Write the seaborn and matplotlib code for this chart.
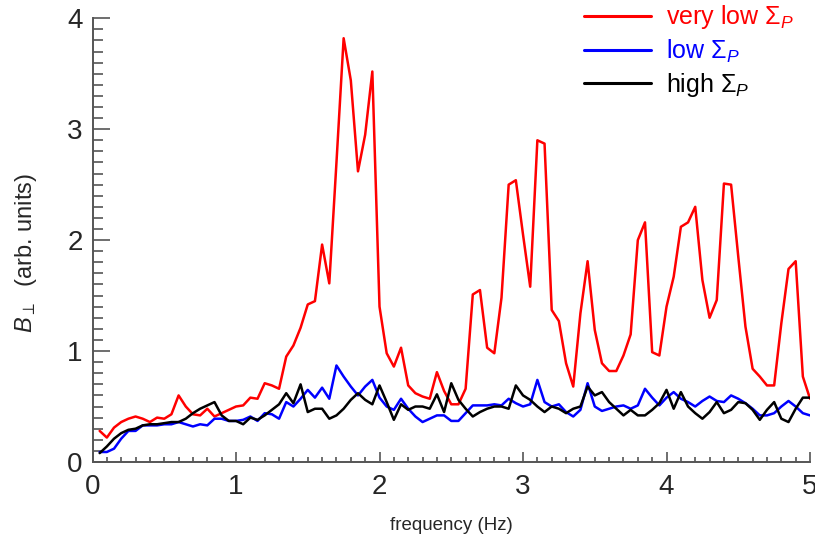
import numpy as np
import pandas as pd
import matplotlib
matplotlib.use("Agg")
import matplotlib.pyplot as plt
from matplotlib import font_manager as fm
from matplotlib.ticker import MultipleLocator
import seaborn as sns

# ---------------- data ----------------
freq = [round(0.05 * i, 2) for i in range(1, 101)]

very_low = [0.28, 0.22, 0.31, 0.36, 0.39, 0.41, 0.39, 0.36, 0.40, 0.39,
            0.43, 0.60, 0.50, 0.43, 0.42, 0.48, 0.41, 0.44, 0.47, 0.50,
            0.51, 0.58, 0.57, 0.71, 0.69, 0.66, 0.95, 1.05, 1.21, 1.42,
            1.45, 1.96, 1.61, 2.70, 3.82, 3.44, 2.62, 2.95, 3.52, 1.40,
            0.98, 0.86, 1.03, 0.69, 0.62, 0.59, 0.57, 0.81, 0.64, 0.52,
            0.52, 0.66, 1.51, 1.55, 1.03, 0.98, 1.48, 2.50, 2.54, 2.05,
            1.58, 2.90, 2.87, 1.37, 1.27, 0.89, 0.68, 1.34, 1.81, 1.19,
            0.89, 0.82, 0.82, 0.96, 1.15, 2.00, 2.16, 0.99, 0.96, 1.40,
            1.67, 2.12, 2.16, 2.30, 1.64, 1.30, 1.46, 2.51, 2.50, 1.85,
            1.22, 0.84, 0.77, 0.69, 0.69, 1.25, 1.74, 1.81, 0.77, 0.57]

low = [0.09, 0.09, 0.12, 0.21, 0.28, 0.28, 0.33, 0.33, 0.33, 0.34,
       0.34, 0.36, 0.34, 0.32, 0.34, 0.33, 0.39, 0.39, 0.37, 0.37,
       0.38, 0.41, 0.37, 0.44, 0.43, 0.39, 0.54, 0.50, 0.57, 0.65,
       0.58, 0.67, 0.57, 0.87, 0.77, 0.68, 0.60, 0.68, 0.74, 0.58,
       0.50, 0.47, 0.57, 0.48, 0.41, 0.36, 0.39, 0.42, 0.42, 0.37,
       0.37, 0.44, 0.51, 0.51, 0.51, 0.52, 0.51, 0.57, 0.53, 0.50,
       0.52, 0.74, 0.54, 0.50, 0.52, 0.45, 0.41, 0.47, 0.71, 0.50,
       0.46, 0.48, 0.50, 0.51, 0.48, 0.51, 0.66, 0.58, 0.51, 0.58,
       0.63, 0.57, 0.54, 0.50, 0.55, 0.59, 0.55, 0.54, 0.60, 0.57,
       0.53, 0.48, 0.42, 0.42, 0.44, 0.50, 0.55, 0.50, 0.44, 0.42]

high = [0.08, 0.14, 0.21, 0.26, 0.29, 0.30, 0.33, 0.34, 0.34, 0.35,
        0.36, 0.36, 0.39, 0.44, 0.48, 0.51, 0.54, 0.42, 0.37, 0.37,
        0.34, 0.40, 0.38, 0.42, 0.47, 0.52, 0.62, 0.53, 0.70, 0.45,
        0.48, 0.48, 0.39, 0.42, 0.48, 0.56, 0.62, 0.56, 0.52, 0.69,
        0.54, 0.38, 0.52, 0.47, 0.50, 0.50, 0.48, 0.61, 0.45, 0.71,
        0.56, 0.48, 0.41, 0.45, 0.48, 0.50, 0.50, 0.48, 0.69, 0.60,
        0.56, 0.50, 0.45, 0.50, 0.48, 0.44, 0.48, 0.50, 0.68, 0.60,
        0.63, 0.54, 0.48, 0.42, 0.47, 0.42, 0.42, 0.47, 0.53, 0.65,
        0.48, 0.63, 0.50, 0.44, 0.39, 0.45, 0.54, 0.44, 0.47, 0.54,
        0.53, 0.47, 0.38, 0.47, 0.54, 0.39, 0.36, 0.48, 0.58, 0.58]

series_labels = [r"very low $\Sigma_P$", r"low $\Sigma_P$", r"high $\Sigma_P$"]
series_colors = ["#ff0000", "#0000ff", "#000000"]
x_ticks = [0, 1, 2, 3, 4, 5]
y_ticks = [0, 1, 2, 3, 4]

# ---------------- fonts ----------------
sns.set_style("ticks")
names = {f.name for f in fm.fontManager.ttflist}
base = "Liberation Sans Narrow" if "Liberation Sans Narrow" in names else "Liberation Sans"
plt.rcParams["font.family"] = [base, "DejaVu Sans"]
plt.rcParams["mathtext.fontset"] = "custom"
plt.rcParams["mathtext.rm"] = base
plt.rcParams["mathtext.it"] = base + ":italic"
plt.rcParams["mathtext.bf"] = base + ":bold"

# ---------------- frame ----------------
df = pd.concat([
    pd.DataFrame({"freq": freq, "B": vals, "series": lab})
    for vals, lab in zip([very_low, low, high], series_labels)
], ignore_index=True)

fig = plt.figure(figsize=(8.15, 5.37), dpi=100)
ax = fig.add_axes([0.1135, 0.1397, 0.8804, 0.8263])

sns.lineplot(data=df, x="freq", y="B", hue="series",
             palette=dict(zip(series_labels, series_colors)),
             hue_order=series_labels, linewidth=1.8, ax=ax, legend=True)

ax.set_xlim(0, 5)
ax.set_ylim(0, 4)
ax.set_xticks(x_ticks)
ax.set_yticks(y_ticks)
ax.xaxis.set_minor_locator(MultipleLocator(0.1))
ax.yaxis.set_minor_locator(MultipleLocator(0.1))

spine_col = "#555555"
for s in ["top", "right"]:
    ax.spines[s].set_visible(False)
for s in ["left", "bottom"]:
    ax.spines[s].set_color(spine_col)
    ax.spines[s].set_linewidth(1.4)

ax.tick_params(axis="y", which="major", direction="in", length=12, width=1.2,
               color=spine_col, labelsize=20, pad=7)
ax.tick_params(axis="y", which="minor", direction="in", length=7, width=1.2,
               color=spine_col)
ax.tick_params(axis="x", which="major", direction="in", length=7.5, width=1.2,
               color=spine_col, labelsize=20, pad=9)
ax.tick_params(axis="x", which="minor", direction="in", length=3.8, width=1.2,
               color=spine_col)

ax.set_xlabel("frequency (Hz)", fontsize=13.5, labelpad=12)
ax.set_ylabel(r"$B_{\perp}$  (arb. units)", fontsize=17)
ax.yaxis.set_label_coords(-0.075, 0.47)

leg = ax.legend(loc="upper right", bbox_to_anchor=(0.992, 1.056), frameon=False,
                fontsize=18, handlelength=2.7, handletextpad=0.6,
                labelspacing=0.25, borderaxespad=0.0)
for line, text, col in zip(leg.get_lines(), leg.get_texts(), series_colors):
    line.set_linewidth(2.2)
    text.set_color(col)

fig.savefig("out.png", dpi=100)
